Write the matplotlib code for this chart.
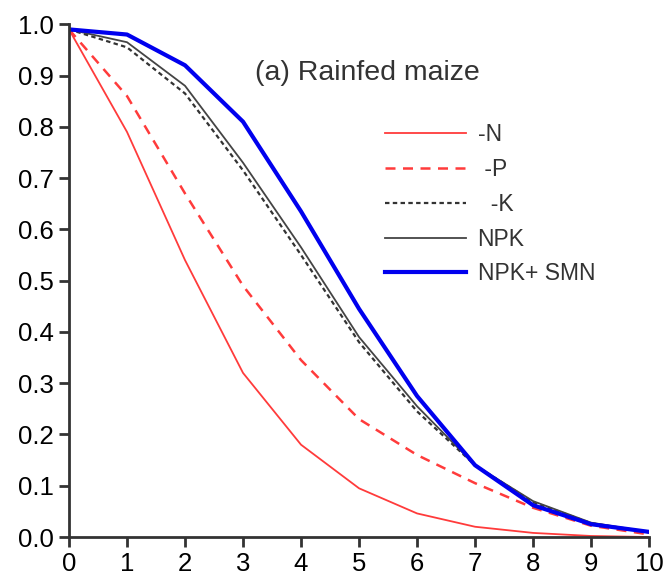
import matplotlib.pyplot as plt
import numpy as np

plt.rcParams['font.family'] = ['Liberation Sans', 'DejaVu Sans']

# x axis: 0..10
x = np.arange(0, 11)

# values
minus_n = [0.99, 0.79, 0.54, 0.32, 0.18, 0.095, 0.046, 0.02, 0.008, 0.002, 0.0]
minus_p = [0.99, 0.86, 0.67, 0.49, 0.345, 0.23, 0.16, 0.105, 0.057, 0.022, 0.005]
minus_k = [0.99, 0.955, 0.865, 0.715, 0.55, 0.38, 0.245, 0.14, 0.068, 0.027, 0.009]
npk = [0.99, 0.965, 0.88, 0.73, 0.565, 0.39, 0.255, 0.14, 0.07, 0.028, 0.01]
npk_smn = [0.99, 0.98, 0.92, 0.81, 0.635, 0.445, 0.275, 0.14, 0.062, 0.025, 0.01]

labels = ['-N', ' -P', '  -K', 'NPK', 'NPK+ SMN']

fig = plt.figure(figsize=(6.66, 5.82), dpi=100)
ax = fig.add_axes([0.1036, 0.0773, 0.871, 0.881])

ax.plot(x, minus_n, color='#ff3b3b', linewidth=1.3, label=labels[0])
ax.plot(x, minus_p, color='#ff3b3b', linewidth=1.8, linestyle=(0, (4, 3)), label=labels[1])
ax.plot(x, minus_k, color='#333333', linewidth=1.6, linestyle=(0, (2, 1.5)), label=labels[2])
ax.plot(x, npk, color='#444444', linewidth=1.3, label=labels[3])
ax.plot(x, npk_smn, color='#0000ee', linewidth=3.0, label=labels[4])

ax.set_xlim(0, 10)
ax.set_ylim(0, 1.0)
ax.set_xticks(np.arange(0, 11, 1))
ax.set_yticks(np.arange(0, 1.01, 0.1))
ax.yaxis.set_major_formatter(plt.FormatStrFormatter('%.1f'))

# 图像边界
ax.spines['right'].set_visible(False)
ax.spines['top'].set_visible(False)
for s in ['left', 'bottom']:
    ax.spines[s].set_linewidth(2.0)
    ax.spines[s].set_color('#333333')
ax.tick_params(direction='out', length=7, width=2.0, color='#333333',
               labelsize=18.5, pad=4)

ax.text(3.2, 0.905, '(a) Rainfed maize', fontsize=20.5, color='#333333',
        va='center', ha='left')

leg = ax.legend(loc='upper left', bbox_to_anchor=(0.51, 0.848), frameon=False,
                fontsize=16.5, handlelength=3.5, handletextpad=0.52,
                labelspacing=0.52)
for t in leg.get_texts():
    t.set_color('#333333')

fig.savefig('out.png', dpi=100)
